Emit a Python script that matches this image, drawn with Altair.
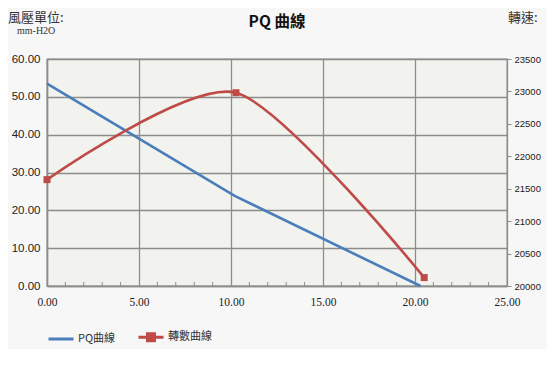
import altair as alt
import pandas as pd

# ---- data ----
series_names = ["PQ曲線", "轉數曲線"]
pq_flow = [0.0, 10.2, 20.3]
pq_pressure = [53.5, 23.8, 0.0]
speed_flow = [0.0, 10.27, 20.5]
speed_rpm = [21640, 22980, 20130]
x_ticks = [0, 5, 10, 15, 20, 25]
x_minor = [1, 2, 3, 4, 6, 7, 8, 9, 11, 12, 13, 14, 16, 17, 18, 19, 21, 22, 23, 24]
y_left_ticks = [0, 10, 20, 30, 40, 50, 60]
y_right_ticks = [20000, 20500, 21000, 21500, 22000, 22500, 23000, 23500]

BLUE = "#4a7ebb"
RED = "#be4b48"
GRID = "#8c8c8c"
CJK = "Noto Sans CJK TC"

W, H = 460, 227

df_pq = pd.DataFrame({"flow": pq_flow, "value": pq_pressure, "series": series_names[0]})
df_sp = pd.DataFrame({"flow": speed_flow, "rpm": speed_rpm, "series": series_names[1]})
df_minor = pd.DataFrame({"flow": x_minor})

x_axis = alt.Axis(values=x_ticks, format=".2f", title=None, grid=True, gridColor=GRID,
                  gridWidth=1.3, domain=True, domainColor=GRID, domainWidth=1.5, ticks=False,
                  labelFont="Liberation Serif", labelFontSize=11.5, labelColor="#222",
                  labelPadding=10, labelBaseline="top", labelFlush=False, labelOverlap=False)
X = alt.X("flow:Q", scale=alt.Scale(domain=[0, 25], nice=False, zero=False), axis=x_axis)

color = alt.Color("series:N", scale=alt.Scale(domain=series_names, range=[BLUE, RED]),
                  legend=alt.Legend(
                      title=None, orient="none", legendX=0, legendY=264, direction="horizontal",
                      symbolType={"expr": "datum.value == '轉數曲線' ? 'M-1,0H1M-0.28,-0.28H0.28V0.28H-0.28Z' : 'M-1,0H1'"},
                      symbolFillColor={"expr": "datum.value == '轉數曲線' ? '#be4b48' : 'transparent'"},
                      symbolSize=625, symbolStrokeWidth=3, labelFont=CJK, labelFontSize=11,
                      labelColor="#333", labelOffset=3, columnPadding=16))

left_axis = alt.Axis(values=y_left_ticks, format=".2f", title=None, grid=True, gridColor=GRID,
                     gridWidth=1.3, domain=True, domainColor=GRID, domainWidth=1.5, ticks=False,
                     labelFont="Liberation Sans", labelFontSize=11.5, labelColor="#222", labelPadding=7,
                     labelFlush=False, labelOverlap=False)
right_axis = alt.Axis(orient="right", values=y_right_ticks, format="d", title=None, grid=False,
                      domain=False, ticks=True, tickSize=4, tickColor=GRID, tickWidth=1,
                      labelFont="Liberation Sans", labelFontSize=9.5, labelColor="#222", labelPadding=3,
                      labelFlush=False, labelOverlap=False)
Y_right = alt.Y("rpm:Q", scale=alt.Scale(domain=[20000, 23500], nice=False, zero=False), axis=right_axis)

blue = alt.Chart(df_pq).mark_line(strokeWidth=2.6).encode(
    x=X,
    y=alt.Y("value:Q", scale=alt.Scale(domain=[0, 60], nice=False), axis=left_axis),
    color=color,
)
red_line = alt.Chart(df_sp).mark_line(strokeWidth=2.6, interpolate="cardinal", tension=0.25).encode(
    x=X, y=Y_right, color=color)
red_pts = alt.Chart(df_sp).mark_square(size=49, filled=True, opacity=1).encode(
    x=X, y=Y_right, color=alt.value(RED))

minor = alt.Chart(df_minor).mark_rule(color=GRID, strokeWidth=1).encode(
    x=X, y=alt.value(H - 4), y2=alt.value(H))

def label(txt, x, y, size, font, align="left", color="#333", weight="normal"):
    return alt.Chart(pd.DataFrame({"t": [txt]})).mark_text(
        align=align, baseline="middle", fontSize=size, font=font, color=color, fontWeight=weight
    ).encode(x=alt.value(x), y=alt.value(y), text="t:N")

ann = alt.layer(
    label("風壓單位:", -39, -41, 13, CJK),
    label("mm-H2O", -30, -28, 10, "Liberation Serif"),
    label("轉速:", 461, -41, 13, CJK),
    label("PQ 曲線", W / 2, -37, 15.5, CJK, align="center", color="#111", weight="bold"),
)

chart = alt.layer(
    blue, alt.layer(red_line, red_pts), minor, ann
).resolve_scale(y="independent").properties(
    width=W, height=H,
    autosize=alt.AutoSizeParams(type="none"),
    padding={"left": 39, "top": 51, "right": 40, "bottom": 63},
    background="#f7f7f7",
).configure_view(stroke=GRID, strokeWidth=1.3, fill="#f2f3ee")

chart.save("out.html", embed_options={"renderer": "svg", "actions": False})
